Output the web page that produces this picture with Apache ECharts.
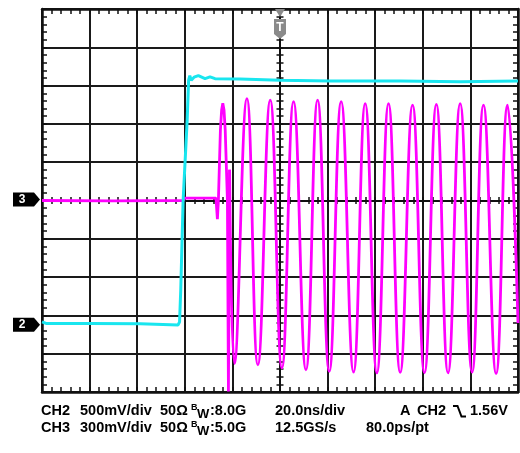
<!DOCTYPE html>
<html>
<head>
<meta charset="utf-8">
<script src="https://cdn.jsdelivr.net/npm/echarts@6/dist/echarts.min.js"></script>
<style>
body { margin: 0; background: #fff; }
#scope { width: 520px; height: 453px; }
</style>
</head>
<body>
<div id="scope"></div>
<script>
// time in ns (20 ns/div, trigger at 0), level in divisions
const ch2Time  = [-100, -99.4, -98.3, -79.8, -58.8, -42.8, -42.2, -41.7, -40.7, -39.0, -38.4, -37.9, -37.3, -36.1, -34.3, -31.5, -29.4, -27.3, -16.8, 0, 21.1, 50.5, 75.7, 100];
const ch2Level = [-3.17, -3.12, -3.21, -3.21, -3.22, -3.25, -3.17, -2.33, 0.01, 2.10, 3.14, 3.26, 3.14, 3.22, 3.26, 3.18, 3.23, 3.18, 3.17, 3.14, 3.12, 3.12, 3.10, 3.12];

// CH3 before the ringing settles: baseline, small dip, first peak and glitch
const ch3PreTime  = [-100, -70, -40.8, -40.0, -26.9, -26.3, -25.88, -25.04, -24.53, -24.03, -23.52, -23.02, -22.09, -21.67, -21.17];
const ch3PreLevel = [0.0, -0.01, 0.0, 0.06, 0.06, -0.49, 0.01, 1.84, 2.36, 2.54, 2.36, 1.84, 0.01, -4.99, 0.80];

// CH3 ringing: troughs and peaks
const ch3RingTime  = [-21.17, -19.15, -13.9, -9.3, -4.1, 0.8, 5.7, 10.9, 15.8, 20.7, 25.7, 30.9, 35.8, 40.7, 45.6, 50.5, 55.7, 60.7, 65.7, 70.6, 75.7, 80.7, 85.5, 90.8, 95.6, 100];
const ch3RingLevel = [0.80, -4.26, 2.66, -4.29, 2.62, -4.37, 2.58, -4.42, 2.62, -4.46, 2.58, -4.48, 2.53, -4.50, 2.53, -4.49, 2.49, -4.50, 2.51, -4.50, 2.53, -4.48, 2.49, -4.52, 2.49, -3.2];

const ch2Ground = -3.27;
const ch3Ground = 0;

const footerRow1 = ['CH2', '500mV/div', '50Ω', 'B', 'W', ':8.0G', '20.0ns/div', 'A', 'CH2', '1.56V'];
const footerRow2 = ['CH3', '300mV/div', '50Ω', 'B', 'W', ':5.0G', '12.5GS/s', '80.0ps/pt'];

function pairs(xs, ys) {
    return xs.map((x, i) => [x, ys[i]]);
}

const ink = '#111';
const tickStyle = { color: ink, width: 1.5 };

function edgeAxis(position, grid) {
    let vertical = position === 'left' || position === 'right';
    return {
        type: 'value', min: vertical ? -5 : -100, max: vertical ? 5 : 100, interval: vertical ? 1 : 20,
        position: position,
        axisLine: { show: true, onZero: false, lineStyle: { color: ink, width: 2.5 } },
        axisTick: { show: true, inside: true, length: 5, lineStyle: tickStyle },
        minorTick: { show: true, splitNumber: 5, length: 5, lineStyle: tickStyle },
        axisLabel: { show: false },
        splitLine: { show: grid, lineStyle: { color: '#1a1a1a', width: 2 } }
    };
}

function centerAxis(isX, inside) {
    return {
        type: 'value', min: isX ? -100 : -5, max: isX ? 100 : 5, interval: isX ? 20 : 1,
        axisLine: { show: true, onZero: true, onZeroAxisIndex: 0, lineStyle: { color: ink, width: 2 } },
        axisTick: { show: true, inside: inside, length: 3.5, lineStyle: tickStyle },
        minorTick: { show: true, splitNumber: 5, length: 3.5, lineStyle: tickStyle },
        axisLabel: { show: false },
        splitLine: { show: false }
    };
}

var myChart = echarts.init(document.getElementById('scope'));

let option = {
    animation: false,
    backgroundColor: '#fff',
    grid: { left: 42, top: 9, width: 476, height: 383 },
    xAxis: [edgeAxis('bottom', true), edgeAxis('top', false), centerAxis(true, true), centerAxis(true, false)],
    yAxis: [edgeAxis('left', true), edgeAxis('right', false), centerAxis(false, true), centerAxis(false, false)],
    series: [
        {
            name: 'CH3 pre', type: 'line', showSymbol: false,
            lineStyle: { color: '#ff00ff', width: 2.8 },
            data: pairs(ch3PreTime, ch3PreLevel)
        },
        {
            name: 'CH3', type: 'line', showSymbol: false, smooth: 0.45,
            lineStyle: { color: '#ff00ff', width: 2.8 },
            data: pairs(ch3RingTime, ch3RingLevel)
        },
        {
            name: 'CH2', type: 'line', showSymbol: false,
            lineStyle: { color: '#19e6ef', width: 3 },
            data: pairs(ch2Time, ch2Level)
        }
    ]
};
myChart.setOption(option);

// markers and readout
function channelMarker(label, level) {
    const y = myChart.convertToPixel({ gridIndex: 0 }, [-100, level])[1] - 1;
    return [
        { type: 'polygon', z: 100, shape: { points: [[13, y - 7], [34, y - 7], [40, y], [34, y + 7], [13, y + 7]] }, style: { fill: '#000' } },
        { type: 'text', z: 101, style: { text: label, x: 22, y: y, align: 'center', verticalAlign: 'middle', font: 'bold 12px "Liberation Sans", Arial', fill: '#fff' } }
    ];
}

function label(text, x, y, size) {
    return {
        type: 'text', z: 100,
        style: { text: text, x: x, y: y, verticalAlign: 'middle', font: 'bold ' + size + 'px "Liberation Sans", Arial', fill: '#000' }
    };
}

const trig = myChart.convertToPixel({ gridIndex: 0 }, [0, 5]);
const row1X = [41, 80, 160, 191, 197, 210, 275, 400, 417, 470];
const row2X = [41, 80, 160, 191, 197, 210, 275, 366];
const rowY = [411, 428];

let graphics = [].concat(
    channelMarker('3', ch3Ground),
    channelMarker('2', ch2Ground),
    [
        { type: 'polygon', z: 100, shape: { points: [[trig[0] - 5, trig[1]], [trig[0] + 5, trig[1]], [trig[0], trig[1] + 8]] }, style: { fill: '#8a8a8a' } },
        { type: 'polygon', z: 100, shape: { points: [[trig[0] - 6, trig[1] + 10], [trig[0] + 6, trig[1] + 10], [trig[0] + 6, trig[1] + 25], [trig[0], trig[1] + 30], [trig[0] - 6, trig[1] + 25]] }, style: { fill: '#8a8a8a' } },
        { type: 'text', z: 101, style: { text: 'T', x: trig[0], y: trig[1] + 18.5, align: 'center', verticalAlign: 'middle', font: 'bold 12px "Liberation Sans", Arial', fill: '#fff' } },
        { type: 'polyline', z: 100, shape: { points: [[453, 406], [457.5, 406], [461.5, 416.5], [466, 416.5]] }, style: { stroke: '#000', lineWidth: 2, fill: null } }
    ]
);

[footerRow1, footerRow2].forEach((row, r) => {
    const xs = r === 0 ? row1X : row2X;
    row.forEach((t, i) => {
        let size = 14.5, y = rowY[r];
        if (t === 'B') { size = 9; y -= 3.5; }
        if (t === 'W') { size = 13; y += 3.5; }
        graphics.push(label(t, xs[i], y, size));
    });
});

myChart.setOption({ graphic: graphics });
</script>
</body>
</html>
